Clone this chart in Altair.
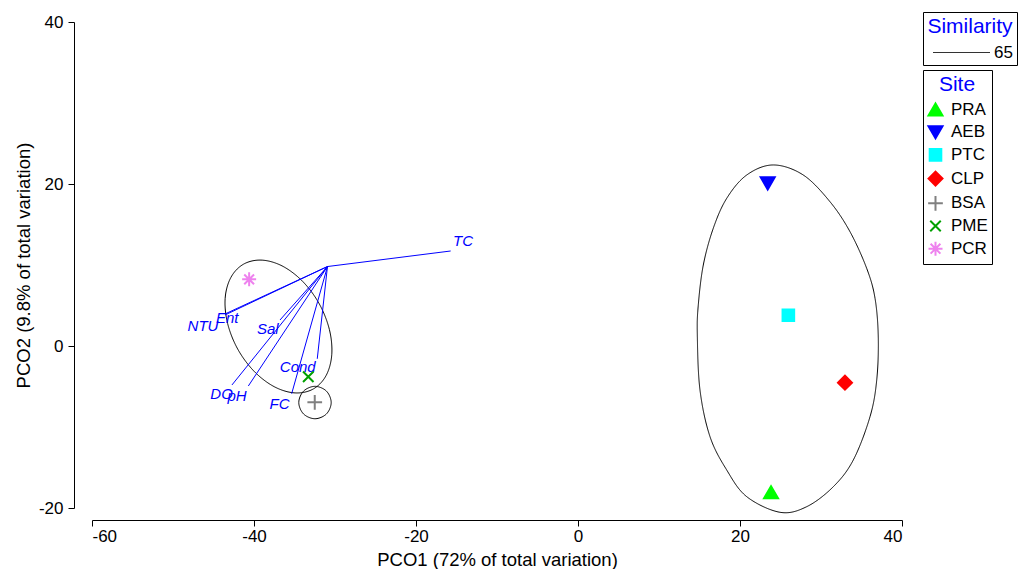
import altair as alt
import pandas as pd

FONT = "Liberation Sans"

# ---- site scores (PCO1, PCO2)
sites = ["PRA", "AEB", "PTC", "CLP", "BSA", "PME", "PCR"]
pco1 = [23.83, 23.42, 25.97, 32.96, -32.50, -33.30, -40.60]
pco2 = [-18.06, 20.08, 3.79, -4.53, -6.95, -3.79, 8.23]

# ---- vector overlay
var_names = ["TC", "Ent", "NTU", "Sal", "DO", "pH", "FC", "Cond"]
vec_origin_x = -30.93
vec_origin_y = 9.81
vec_end_x = [-15.72, -43.46, -43.58, -36.79, -42.72, -40.70, -35.35, -32.19]
vec_end_y = [11.73, 4.01, 3.83, 3.21, -4.81, -4.94, -5.89, -1.58]
lab_x = [-14.2, -43.3, -46.3, -38.3, -44.0, -42.1, -36.85, -34.6]
lab_y = [13.0, 3.5, 2.5, 2.1, -5.9, -6.2, -7.2, -2.65]

# ---- similarity contours (65%)
sim_level = "65"
c1_x = [24.11, 27.81, 31.11, 33.58, 35.64, 36.67, 37.07, 36.88, 36.05, 33.99, 31.52, 28.23,
        24.94, 20.83, 18.36, 16.30, 15.06, 14.73, 14.85, 15.47, 16.70, 18.36, 20.83]
c1_y = [22.35, 21.11, 17.81, 14.11, 9.59, 5.89, 1.11, -4.20, -8.73, -14.07, -17.37, -19.84,
        -20.53, -18.60, -15.31, -11.20, -5.43, 1.36, 5.06, 10.00, 14.53, 18.23, 21.11]
c2_x = [-32.69, -34.95, -37.51, -39.99, -42.01, -43.26, -43.56, -42.85,
        -41.26, -39.00, -36.44, -33.96, -31.94, -30.69, -30.40, -31.10]
c2_y = [-5.31, -5.79, -5.02, -3.12, -0.38, 2.79, 5.89, 8.47,
        10.12, 10.60, 9.84, 7.94, 5.20, 2.02, -1.07, -3.65]
c3_x = [-30.47, -31.06, -32.47, -33.88, -34.47, -33.88, -32.47, -31.06]
c3_y = [-6.98, -5.57, -4.98, -5.57, -6.98, -8.39, -8.98, -8.39]

# ---- axis ticks
x_ticks = [-60, -40, -20, 0, 20, 40]
y_ticks = [-20, 0, 20, 40]

# ---- styles
site_colors = ["#00FF00", "#0000FF", "#00FFFF", "#FF0000", "#808080", "#00A000", "#EE82EE"]
site_shapes = [
    "triangle-up",
    "triangle-down",
    "M-0.83,-0.83L0.83,-0.83L0.83,0.83L-0.83,0.83Z",
    "diamond",
    "M-1.05,0L1.05,0M0,-1.05L0,1.05",
    "M-0.75,-0.75L0.75,0.75M-0.75,0.75L0.75,-0.75",
    "M-1,0L1,0M0,-1L0,1M-0.7,-0.7L0.7,0.7M-0.7,0.7L0.7,-0.7",
]

pts = pd.DataFrame({"Site": sites, "x": pco1, "y": pco2})
vec = pd.DataFrame({"var": var_names, "x0": [vec_origin_x] * len(var_names),
                    "y0": [vec_origin_y] * len(var_names), "x1": vec_end_x, "y1": vec_end_y,
                    "lx": lab_x, "ly": lab_y})
rows = []
for g, (xs, ys) in enumerate([(c1_x, c1_y), (c2_x, c2_y), (c3_x, c3_y)]):
    for i, (a, b) in enumerate(zip(xs, ys)):
        rows.append({"grp": g, "i": i, "x": a, "y": b, "Similarity": sim_level})
cont = pd.DataFrame(rows)

xscale = alt.Scale(domain=[-60, 40], nice=False, zero=False)
yscale = alt.Scale(domain=[-20, 40], nice=False, zero=False)
xaxis = alt.Axis(values=x_ticks, offset=12, tickSize=6, labelPadding=2, titlePadding=6,
                 labelExpr="'' + datum.value",
                 title="PCO1 (72% of total variation)")
yaxis = alt.Axis(values=y_ticks, offset=18, tickSize=6, labelPadding=5, titlePadding=5,
                 labelExpr="'' + datum.value",
                 title="PCO2 (9.8% of total variation)")

def X(field):
    return alt.X(field, type="quantitative", scale=xscale, axis=xaxis)

def Y(field):
    return alt.Y(field, type="quantitative", scale=yscale, axis=yaxis)

site_legend = alt.Legend(
    title="Site", orient="none", legendX=831, legendY=48, strokeColor="black",
    fillColor="white", padding=4, cornerRadius=0,
    titleColor="#0000FF", titleFont=FONT, titleFontSize=21, titleFontWeight="normal",
    titleAnchor="middle", titlePadding=6,
    labelFont=FONT, labelFontSize=17, labelColor="black", labelOffset=7,
    symbolSize=196, symbolStrokeWidth=2, rowPadding=1.7,
)
sim_legend = alt.Legend(
    title="Similarity", orient="none", legendX=831, legendY=-10, strokeColor="black",
    fillColor="white", padding=4, cornerRadius=0,
    titleColor="#0000FF", titleFont=FONT, titleFontSize=21, titleFontWeight="normal",
    titleAnchor="middle", titlePadding=7,
    labelFont=FONT, labelFontSize=17, labelColor="black",
    symbolType="M-3.8,0L3.8,0", symbolSize=225, symbolStrokeWidth=1, symbolStrokeColor="#333333",
    symbolOffset=26, labelOffset=24,
)

contours = alt.Chart(cont).mark_line(interpolate="cardinal-closed", color="black",
                                     strokeWidth=1).encode(
    x=X("x"), y=Y("y"), detail="grp:N", order="i:Q",
    strokeDash=alt.StrokeDash("Similarity:N", scale=alt.Scale(domain=[sim_level], range=[[1, 0]]),
                              legend=sim_legend),
)

vectors = alt.Chart(vec).mark_rule(color="#0000FF", strokeWidth=1).encode(
    x=X("x0"), y=Y("y0"), x2="x1", y2="y1")

labels = alt.Chart(vec).mark_text(font=FONT, fontStyle="italic", fontSize=15,
                                  color="#0000FF", align="center", baseline="middle").encode(
    x=X("lx"), y=Y("ly"), text="var:N")

sscale_c = alt.Scale(domain=sites, range=site_colors)
points = alt.Chart(pts).mark_point(filled=True, size=196, strokeWidth=2, opacity=1).encode(
    x=X("x"), y=Y("y"),
    shape=alt.Shape("Site:N", scale=alt.Scale(domain=sites, range=site_shapes), legend=site_legend),
    fill=alt.Fill("Site:N", scale=sscale_c, legend=site_legend),
    stroke=alt.Stroke("Site:N", scale=sscale_c, legend=site_legend),
)

chart = alt.layer(contours, vectors, labels, points).properties(
    width=810, height=486,
    autosize=alt.AutoSizeParams(type="none"),
    padding={"left": 84, "top": 14, "right": 116, "bottom": 61},
).configure_view(stroke=None).configure_axis(
    grid=False, domainColor="black", tickColor="black", labelColor="black",
    titleColor="black", labelFont=FONT, titleFont=FONT, labelFontSize=17,
    titleFontSize=18.5, titleFontWeight="normal", domainWidth=1, tickWidth=1,
)

chart.save("out.html", embed_options={"renderer": "svg", "actions": False})
